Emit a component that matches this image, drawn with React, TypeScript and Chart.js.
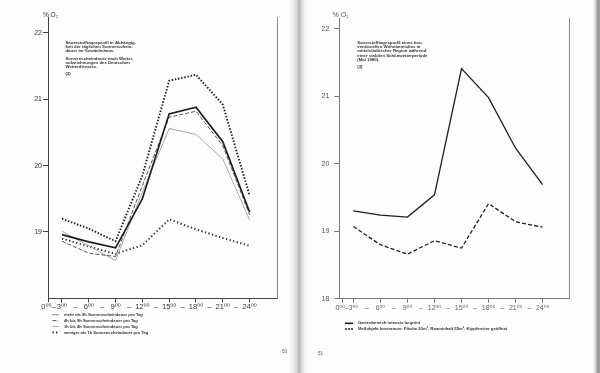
import React, { useEffect, useRef } from "react";
import { Chart, registerables } from "chart.js";
Chart.register(...registerables);

// ---------- data ----------
const hours = [3, 6, 9, 12, 15, 18, 21, 24];
const hourLabels = ["3⁰⁰", "6⁰⁰", "9⁰⁰", "12⁰⁰", "15⁰⁰", "18⁰⁰", "21⁰⁰", "24⁰⁰"];
const startLabel = "0⁰⁰–";
const separatorLabel = "–";

// left page (2): oxygen profile vs. daily sunshine duration
const leftYTicks = [19, 20, 21, 22];
const leftMore9h = [19.2, 19.05, 18.86, 19.85, 21.28, 21.37, 20.92, 19.55];
const leftSolid = [18.96, 18.85, 18.76, 19.5, 20.78, 20.88, 20.36, 19.3];
const left4to9h = [18.86, 18.68, 18.63, 19.7, 20.73, 20.82, 20.3, 19.26];
const left1to4h = [19.01, 18.79, 18.57, 19.6, 20.56, 20.47, 20.1, 19.18];
const leftLess1h = [18.9, 18.78, 18.67, 18.8, 19.19, 19.04, 18.91, 18.79];
const leftLegend = [
  "mehr als 9h Sonnenscheindauer pro Tag",
  "4h bis 9h Sonnenscheindauer pro Tag",
  "1h bis 4h Sonnenscheindauer pro Tag",
  "weniger als 1h Sonnenscheindauer pro Tag",
];
const leftNoteA = [
  "Sauerstofftagesprofil in Abhängig-",
  "keit der täglichen Sonnenschein-",
  "dauer im Gewächshaus.",
];
const leftNoteB = [
  "Sonnenscheindauer nach Wetter-",
  "aufzeichnungen des Deutschen",
  "Wetterdienstes.",
];
const leftNoteRef = "(2)";
const leftPageNo = "50";

// right page (3): residential area
const rightYTicks = [18, 19, 20, 21, 22];
const rightGarden = [19.3, 19.24, 19.21, 19.54, 21.41, 20.98, 20.23, 19.69];
const rightIndoor = [19.07, 18.8, 18.66, 18.86, 18.75, 19.41, 19.14, 19.06];
const rightLegend = [
  "Gartenbereich intensiv begrünt",
  "Meßobjekt Innenraum: Fläche 20m², Rauminhalt 55m³, Kippfenster geöffnet",
];
const rightNote = [
  "Sauerstofftagesprofil eines kon-",
  "ventionellen Wohnbereiches in",
  "mittelstädtischer Region während",
  "einer stabilen Schönwetterperiode",
  "(Mai 1980).",
];
const rightNoteRef = "(3)";
const rightPageNo = "51";
const yUnit = "% O₂";

// ---------- helpers ----------
const FONT = "'Liberation Sans', Arial, 'DejaVu Sans', sans-serif";
const INK = "#1e1e1e";

const pts = (vals: number[]) => hours.map((h, i) => ({ x: h, y: vals[i] }));

function makeNotesPlugin(items: any[]) {
  return {
    id: "pageNotes",
    afterDraw(chart: any) {
      const ctx = chart.ctx;
      ctx.save();
      for (const it of items) {
        ctx.font = it.font;
        ctx.fillStyle = it.color;
        ctx.textBaseline = "middle";
        ctx.textAlign = "left";
        it.lines.forEach((t: string, i: number) => ctx.fillText(t, it.x, it.y + i * (it.gap || 0)));
      }
      ctx.restore();
    },
  };
}

function makeLegendPlugin(o: any) {
  return {
    id: "pageLegend",
    afterDraw(chart: any) {
      const ctx = chart.ctx;
      ctx.save();
      let row = 0;
      chart.data.datasets.forEach((ds: any) => {
        if (!ds.label) return;
        const y = o.y + row * o.gap;
        ctx.beginPath();
        ctx.setLineDash(ds.legendDash || ds.borderDash || []);
        ctx.lineWidth = ds.legendWidth || ds.borderWidth;
        ctx.strokeStyle = ds.borderColor;
        ctx.moveTo(o.x, y);
        ctx.lineTo(o.x + o.sample, y);
        ctx.stroke();
        ctx.setLineDash([]);
        ctx.fillStyle = o.color;
        ctx.font = o.font;
        ctx.textBaseline = "middle";
        ctx.fillText(ds.label, o.textX, y);
        row++;
      });
      ctx.restore();
    },
  };
}

function xScale(min: number, max: number, startAt: number, fontSize: number, color: string, axisColor: string, height: number, pad: number) {
  const ticks: { value: number }[] = [{ value: startAt }];
  hours.forEach((h, i) => {
    ticks.push({ value: h });
    if (i < hours.length - 1) ticks.push({ value: h + 1.5 });
  });
  return {
    type: "linear",
    min,
    max,
    afterBuildTicks: (s: any) => {
      s.ticks = ticks.map((t) => ({ ...t }));
    },
    afterFit: (s: any) => {
      s.height = height;
    },
    ticks: {
      autoSkip: false,
      maxRotation: 0,
      padding: pad,
      color,
      font: { family: FONT, size: fontSize },
      callback: (v: number) => {
        if (v === startAt) return startLabel;
        const i = hours.indexOf(v);
        return i >= 0 ? hourLabels[i] : separatorLabel;
      },
    },
    grid: {
      display: true,
      drawOnChartArea: false,
      tickLength: 4,
      tickWidth: 1,
      tickColor: (c: any) => (c.tick && (hours.includes(c.tick.value) || c.tick.value === startAt) ? axisColor : "rgba(0,0,0,0)"),
    },
    border: { display: true, color: axisColor, width: 1 },
  };
}

function yScale(min: number, max: number, tickVals: number[], width: number, color: string, axisColor: string, pad: number) {
  return {
    type: "linear",
    position: "left",
    min,
    max,
    afterBuildTicks: (s: any) => {
      s.ticks = tickVals.map((v) => ({ value: v }));
    },
    afterFit: (s: any) => {
      s.width = width;
    },
    ticks: { color, padding: pad, font: { family: FONT, size: 7 }, callback: (v: number) => String(v) },
    grid: { display: true, drawOnChartArea: false, tickLength: 5, tickColor: axisColor },
    border: { display: true, color: axisColor, width: 1 },
  };
}

function frameScale(min: number, max: number, width: number, color: string) {
  return {
    type: "linear",
    position: "right",
    min,
    max,
    afterFit: (s: any) => {
      s.width = width;
    },
    ticks: { display: false },
    grid: { display: false },
    border: { display: true, color, width: 1 },
  };
}

function leftConfig(): any {
  const noteFont = `bold 4.3px ${FONT}`;
  return {
    type: "line",
    data: {
      datasets: [
        { label: leftLegend[0], data: pts(leftMore9h), borderColor: INK, borderWidth: 1.9, borderDash: [1.5, 1.7], legendWidth: 1, legendDash: [1, 1] },
        { label: "", data: pts(leftSolid), borderColor: INK, borderWidth: 1.7 },
        { label: leftLegend[1], data: pts(left4to9h), borderColor: "#555", borderWidth: 1, borderDash: [4, 2] },
        { label: leftLegend[2], data: pts(left1to4h), borderColor: "#a9a9a9", borderWidth: 1 },
        { label: leftLegend[3], data: pts(leftLess1h), borderColor: "#333", borderWidth: 2, borderDash: [1.3, 2.4], legendDash: [1.3, 2.2] },
      ].map((d) => ({ ...d, pointRadius: 0, tension: 0, fill: false })),
    },
    options: {
      animation: false,
      responsive: false,
      devicePixelRatio: 1,
      layout: { padding: { top: 17, left: 0, right: 0, bottom: 0 } },
      plugins: { legend: { display: false }, tooltip: { enabled: false } },
      scales: {
        x: xScale(1.44, 27.1, 1.5, 7.5, "#333", "#444", 74.7, 0),
        y: yScale(18, 22.24, leftYTicks, 48, "#333", "#444", 1),
        y2: frameScale(18, 22.24, 22.7, "#888"),
      },
    },
    plugins: [
      makeNotesPlugin([
        { lines: [yUnit], x: 43, y: 15, font: `6.5px ${FONT}`, color: "#333" },
        { lines: leftNoteA, x: 65.5, y: 42.8, gap: 4.2, font: noteFont, color: "#333" },
        { lines: leftNoteB, x: 65.5, y: 58.8, gap: 4.2, font: noteFont, color: "#333" },
        { lines: [leftNoteRef], x: 65.5, y: 74, font: noteFont, color: "#333" },
        { lines: [leftPageNo], x: 282, y: 352, font: `4.5px ${FONT}`, color: "#555" },
      ]),
      makeLegendPlugin({ x: 52.5, sample: 6.5, textX: 64, y: 314.7, gap: 5.9, font: `bold 4.1px ${FONT}`, color: "#333" }),
    ],
  };
}

function rightConfig(): any {
  const noteFont = `bold 4.3px ${FONT}`;
  return {
    type: "line",
    data: {
      datasets: [
        { label: rightLegend[0], data: pts(rightGarden), borderColor: INK, borderWidth: 1.3, legendWidth: 1.6 },
        { label: rightLegend[1], data: pts(rightIndoor), borderColor: INK, borderWidth: 1.3, borderDash: [4, 2.2], legendWidth: 1.6, legendDash: [2, 1] },
      ].map((d) => ({ ...d, pointRadius: 0, tension: 0, fill: false })),
    },
    options: {
      animation: false,
      responsive: false,
      devicePixelRatio: 1,
      layout: { padding: { top: 18, left: 0, right: 0, bottom: 0 } },
      plugins: { legend: { display: false }, tooltip: { enabled: false } },
      scales: {
        x: xScale(1.44, 26.96, 1.75, 7, "#666", "#777", 74.3, 1),
        y: yScale(18, 22.16, rightYTicks, 39.3, "#555", "#777", 5),
        y2: frameScale(18, 22.16, 30.7, "#888"),
      },
    },
    plugins: [
      makeNotesPlugin([
        { lines: [yUnit], x: 32.5, y: 15.5, font: `7px ${FONT}`, color: "#555" },
        { lines: rightNote, x: 57.3, y: 42.8, gap: 4.2, font: noteFont, color: "#333" },
        { lines: [rightNoteRef], x: 57.3, y: 67, font: noteFont, color: "#333" },
        { lines: [rightPageNo], x: 18, y: 354, font: `4.5px ${FONT}`, color: "#555" },
      ]),
      makeLegendPlugin({ x: 45, sample: 8, textX: 58, y: 323.3, gap: 5.7, font: `bold 4.2px ${FONT}`, color: "#333" }),
    ],
  };
}

function PageChart({ make, left }: { make: () => any; left: number }) {
  const ref = useRef<HTMLCanvasElement | null>(null);
  useEffect(() => {
    const chart = new Chart(ref.current as HTMLCanvasElement, make());
    return () => chart.destroy();
  }, []);
  return (
    <canvas
      ref={ref}
      width={300}
      height={373}
      style={{ position: "absolute", left, top: 0, width: 300, height: 373, display: "block" }}
    />
  );
}

export default function App() {
  return (
    <div
      style={{
        position: "absolute",
        left: 0,
        top: 0,
        width: 600,
        height: 373,
        overflow: "hidden",
        background:
          "linear-gradient(to right, #fdfdfd 0px, #fdfdfd 289px, #f0f0f0 293px, #d4d4d4 297px, #b4b4b4 299px, #cfcfcf 301px, #efefef 304px, #fdfdfd 309px, #fdfdfd 593px, #e0e0e0 595px, #909090 598px, #a8a8a8 600px)",
      }}
    >
      <PageChart make={leftConfig} left={0} />
      <PageChart make={rightConfig} left={300} />
    </div>
  );
}
